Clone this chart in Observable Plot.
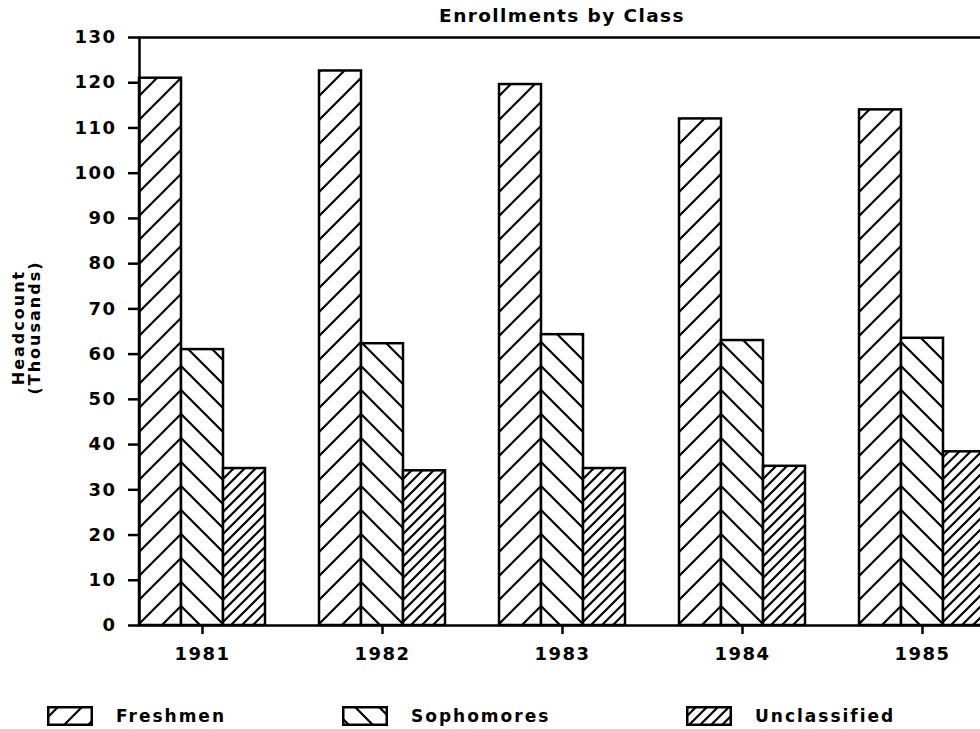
<!DOCTYPE html>
<html>
<head>
<meta charset="utf-8">
<script src="https://cdn.jsdelivr.net/npm/d3@7"></script>
<script src="https://cdn.jsdelivr.net/npm/@observablehq/plot@0.6"></script>
<style>
html, body { margin: 0; padding: 0; background: #fff; overflow: hidden; width: 980px; height: 729px; }
#title { box-sizing: border-box; height: 30px; padding-top: 5px; line-height: 25px; font: bold 18.5px "DejaVu Sans"; letter-spacing: 1.4px; padding-left: 138px; width: 986px; text-align: center; color: #000; overflow: hidden; }
#chart svg text { letter-spacing: 1.5px; }
#legend { position: relative; height: 54px; font: bold 17px "DejaVu Sans"; letter-spacing: 2px; color: #000; }
.item { position: absolute; top: 31px; height: 20px; display: flex; align-items: center; white-space: nowrap; }
.item svg { margin-right: 23px; display: block; }
</style>
</head>
<body>
<svg width="0" height="0" style="position:absolute">
  <defs>
    <pattern id="pF" patternUnits="userSpaceOnUse" width="24" height="24">
      <rect width="24" height="24" fill="#fff"/>
      <path d="M-2,26 L26,-2 M-2,2 L2,-2 M22,26 L26,22" stroke="#000" stroke-width="2.2"/>
    </pattern>
    <pattern id="pS" patternUnits="userSpaceOnUse" width="24" height="24">
      <rect width="24" height="24" fill="#fff"/>
      <path d="M-2,-2 L26,26 M22,-2 L26,2 M-2,22 L2,26" stroke="#000" stroke-width="2.2"/>
    </pattern>
    <pattern id="pU" patternUnits="userSpaceOnUse" width="11" height="11">
      <rect width="11" height="11" fill="#fff"/>
      <path d="M-2,13 L13,-2 M-2,2 L2,-2 M9,13 L13,9" stroke="#000" stroke-width="2.2"/>
    </pattern>
  </defs>
</svg>
<div id="title">Enrollments by Class</div>
<div id="chart"></div>
<div id="legend"></div>
<script>
const years = ["1981", "1982", "1983", "1984", "1985"];
const classes = ["Freshmen", "Sophomores", "Unclassified"];
const freshmen = [121, 122.6, 119.6, 112, 114];
const sophomores = [61, 62.3, 64.3, 63, 63.5];
const unclassified = [34.7, 34.2, 34.7, 35.2, 38.4];
const yTicks = [0, 10, 20, 30, 40, 50, 60, 70, 80, 90, 100, 110, 120, 130];
const patterns = ["url(#pF)", "url(#pS)", "url(#pU)"];

const series = [freshmen, sophomores, unclassified];
const data = [];
years.forEach((yr, i) => classes.forEach((c, j) => data.push({year: yr, cls: c, value: series[j][i]})));

const plot = Plot.plot({
  width: 990,
  height: 645,
  marginLeft: 138,
  marginRight: 4,
  marginTop: 7,
  marginBottom: 50,
  style: {fontFamily: "DejaVu Sans", fontSize: "18px", fontWeight: "bold", color: "#000", background: "#fff", maxWidth: "none", overflow: "visible"},
  fx: {domain: years, paddingInner: 0.3, paddingOuter: 0, label: null, axis: null},
  x: {domain: classes, padding: 0, axis: null},
  y: {domain: [0, 130], label: null, axis: null},
  color: {domain: classes, range: patterns},
  marks: [
    Plot.barY(data, {fx: "year", x: "cls", y: "value", fill: "cls", stroke: "#000", strokeWidth: 2.5}),
    Plot.frame({facet: "super", stroke: "#000", strokeWidth: 2.5}),
    Plot.axisY({ticks: yTicks, tickSize: 11, tickPadding: 12, strokeWidth: 2.5, label: null, tickFormat: d => String(d)}),
    Plot.axisFx({anchor: "bottom", tickSize: 9, tickPadding: 13, strokeWidth: 2.5, label: null}),
    Plot.text(["Headcount\n(Thousands)"], {facet: "super", frameAnchor: "left", dx: -113, dy: -4, rotate: -90, textAnchor: "middle", lineAnchor: "middle", fontSize: 16, fontWeight: "bold", text: d => d})
  ]
});
document.getElementById("chart").appendChild(plot);

// align hatch patterns so Freshmen / Sophomores lines meet at their common edge
const bx = plot.scale("x").apply("Sophomores");
document.getElementById("pF").setAttribute("x", bx);
document.getElementById("pS").setAttribute("x", bx);
d3.select(plot).selectAll("text").filter(function() { return this.textContent.includes("Headcount") || this.textContent.includes("Thousands"); }).style("letter-spacing", "2px");

// legend
const legendLefts = [47, 342, 686];
const legend = d3.select("#legend");
classes.forEach((c, j) => {
  const item = legend.append("div").attr("class", "item").style("left", legendLefts[j] + "px");
  const sw = item.append("svg").attr("width", 46).attr("height", 20);
  sw.append("rect").attr("x", 1.25).attr("y", 1.25).attr("width", 43.5).attr("height", 17.5)
    .attr("fill", patterns[j]).attr("stroke", "#000").attr("stroke-width", 2.5);
  item.append("span").text(c);
});
</script>
</body>
</html>
